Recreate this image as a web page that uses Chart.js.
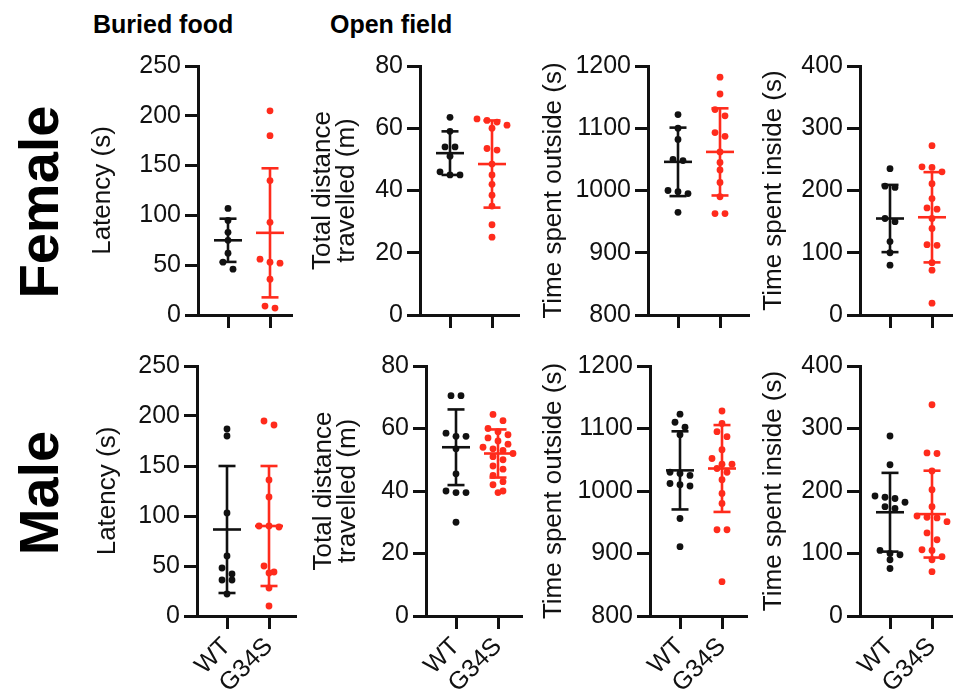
<!DOCTYPE html>
<html><head><meta charset="utf-8">
<script src="https://cdn.jsdelivr.net/npm/chart.js@4.4.1/dist/chart.umd.min.js"></script>
<style>
html,body{margin:0;padding:0;background:#fff;}
body{width:953px;height:694px;position:relative;overflow:hidden;font-family:"Liberation Sans",Arial,sans-serif;}
canvas{position:absolute;}
.hdr{position:absolute;font-weight:bold;font-size:25px;line-height:25px;color:#000;white-space:nowrap;}
.rowlab{position:absolute;width:200px;height:62px;line-height:62px;text-align:center;font-weight:bold;font-size:56px;transform:rotate(-90deg);color:#000;white-space:nowrap;}
</style></head><body>
<div class="hdr" style="left:93px;top:12px">Buried food</div>
<div class="hdr" style="left:330px;top:12px">Open field</div>
<div class="rowlab" style="left:-61px;top:171px">Female</div>
<div class="rowlab" style="left:-61px;top:462px">Male</div>
<canvas id="c1"></canvas><canvas id="c2"></canvas><canvas id="c3"></canvas><canvas id="c4"></canvas>
<canvas id="c5"></canvas><canvas id="c6"></canvas><canvas id="c7"></canvas><canvas id="c8"></canvas>
<script>
// ---------- DATA ----------
const groups = ['WT', 'G34S'];

const latencyTicks  = [0, 50, 100, 150, 200, 250];
const distanceTicks = [0, 20, 40, 60, 80];
const outsideTicks  = [800, 900, 1000, 1100, 1200];
const insideTicks   = [0, 100, 200, 300, 400];

// Female
const femLatWT    = [107, 95, 83, 75, 62, 53, 46];
const femLatG34S  = [205, 180, 135, 93, 56, 53, 52, 36, 9, 7];
const femLatMean  = [75, 82.5];
const femLatSD    = [21.7, 64.8];

const femDistWT   = [63.5, 59, 54, 54, 51, 46, 45, 45];
const femDistG34S = [63, 62.5, 62, 61, 60, 53.5, 53, 48.5, 45, 42, 38.5, 35, 29, 25];
const femDistMean = [52, 48.5];
const femDistSD   = [7, 14];

const femOutWT    = [1122, 1100, 1082, 1050, 1048, 1000, 998, 995, 965];
const femOutG34S  = [1182, 1155, 1130, 1120, 1093, 1087, 1062, 1045, 1033, 1013, 990, 963, 963];
const femOutMean  = [1046, 1062];
const femOutSD    = [55, 70];

const femInWT     = [235, 207, 205, 155, 150, 118, 100, 80];
const femInG34S   = [272, 238, 237, 230, 211, 187, 172, 170, 155, 139, 113, 112, 84, 72, 19];
const femInMean   = [155, 157];
const femInSD     = [54, 72.5];

// Male
const maleLatWT    = [187, 180, 103, 60, 48, 42, 36, 36, 22];
const maleLatG34S  = [195, 191, 136, 119, 90, 90, 89, 50, 44, 43, 28, 10];
const maleLatMean  = [86.5, 90];
const maleLatSD    = [63.5, 60];

const maleDistWT   = [70.5, 70.5, 58.5, 57.5, 57.5, 53.5, 45.5, 40, 39.5, 39.5, 30];
const maleDistG34S = [64.5, 62.5, 60, 59, 58, 57, 56, 55, 54, 53.5, 53, 52, 51, 50, 48, 47, 45, 43, 42, 40, 39.5];
const maleDistMean = [54, 52];
const maleDistSD   = [12.1, 7.7];

const maleOutWT    = [1123, 1110, 1102, 1090, 1030, 1028, 1025, 1012, 1010, 1008, 956, 911];
const maleOutG34S  = [1128, 1108, 1095, 1087, 1066, 1052, 1043, 1043, 1036, 1030, 1018, 996, 980, 938, 938, 855];
const maleOutMean  = [1033, 1036];
const maleOutSD    = [62.5, 69.5];

const maleInWT     = [288, 242, 192, 190, 188, 182, 175, 172, 105, 100, 98, 90, 76];
const maleInG34S   = [338, 261, 260, 232, 202, 175, 160, 158, 157, 151, 133, 122, 106, 105, 95, 90, 71];
const maleInMean   = [166, 163];
const maleInSD     = [63, 69.5];

// ---------- STYLE / LAYOUT ----------
const BLACK = '#111111';
const RED = '#ff2b1c';
const FONT = '"Liberation Sans", Arial, sans-serif';
const PX_PER_X = 42;      // pixels per group unit on x
const FIRST_OFF = 30;     // px from y axis to WT
const DOT_D = 7;          // collision diameter
const STEP = 10;          // swarm spacing px

const rows = [
  {plotTop: 66, plotBottom: 315, canvasTop: 46, canvasBottom: 333, labels: false},
  {plotTop: 366, plotBottom: 616, canvasTop: 346, canvasBottom: 694, labels: true}
];

const panels = [
  {id:'c1', row:0, left:90,  axis:198, right:293, title:'Latency (s)', ticks:latencyTicks, wt:femLatWT, mu:femLatG34S, mean:femLatMean, sd:femLatSD},
  {id:'c2', row:0, left:310, axis:420, right:520, title:['Total distance','travelled (m)'], ticks:distanceTicks, wt:femDistWT, mu:femDistG34S, mean:femDistMean, sd:femDistSD},
  {id:'c3', row:0, left:541, axis:648, right:750, title:'Time spent outside (s)', ticks:outsideTicks, wt:femOutWT, mu:femOutG34S, mean:femOutMean, sd:femOutSD},
  {id:'c4', row:0, left:761, axis:860, right:953, title:'Time spent inside (s)', ticks:insideTicks, wt:femInWT, mu:femInG34S, mean:femInMean, sd:femInSD},
  {id:'c5', row:1, left:95,  axis:197, right:297, title:'Latency (s)', ticks:latencyTicks, wt:maleLatWT, mu:maleLatG34S, mean:maleLatMean, sd:maleLatSD},
  {id:'c6', row:1, left:311, axis:426, right:523, title:['Total distance','travelled (m)'], ticks:distanceTicks, wt:maleDistWT, mu:maleDistG34S, mean:maleDistMean, sd:maleDistSD},
  {id:'c7', row:1, left:541, axis:650, right:748, title:'Time spent outside (s)', ticks:outsideTicks, wt:maleOutWT, mu:maleOutG34S, mean:maleOutMean, sd:maleOutSD},
  {id:'c8', row:1, left:761, axis:860, right:953, title:'Time spent inside (s)', ticks:insideTicks, wt:maleInWT, mu:maleInG34S, mean:maleInMean, sd:maleInSD}
];

function swarm(vals, gx, yMin, yMax, plotH) {
  const k = plotH / (yMax - yMin);
  const sorted = [...vals].sort((a, b) => b - a);
  const rws = [];
  for (const v of sorted) {
    const last = rws[rws.length - 1];
    if (last && Math.abs(last[0] - v) * k < DOT_D) last.push(v); else rws.push([v]);
  }
  const pts = [];
  rws.forEach(r => r.forEach((v, i) => pts.push({x: gx + (i - (r.length - 1) / 2) * STEP / PX_PER_X, y: v})));
  return pts;
}

function barSets(gx, m, s, color) {
  const base = {type: 'scatter', showLine: true, pointRadius: 0, borderColor: color, borderWidth: 2.6, borderCapStyle: 'butt', fill: false};
  const mw = 14 / PX_PER_X, cw = 8.5 / PX_PER_X;
  return [
    Object.assign({}, base, {data: [{x: gx - mw, y: m}, {x: gx + mw, y: m}]}),
    Object.assign({}, base, {data: [{x: gx, y: m - s}, {x: gx, y: m + s}]}),
    Object.assign({}, base, {data: [{x: gx - cw, y: m + s}, {x: gx + cw, y: m + s}]}),
    Object.assign({}, base, {data: [{x: gx - cw, y: m - s}, {x: gx + cw, y: m - s}]})
  ];
}

panels.forEach(p => {
  const r = rows[p.row];
  const cv = document.getElementById(p.id);
  const w = p.right - p.left, h = r.canvasBottom - r.canvasTop;
  cv.style.left = p.left + 'px';
  cv.style.top = r.canvasTop + 'px';
  cv.width = w; cv.height = h;
  cv.style.width = w + 'px'; cv.style.height = h + 'px';
  const yMin = p.ticks[0], yMax = p.ticks[p.ticks.length - 1];
  const plotH = r.plotBottom - r.plotTop;
  const xMin = 1 - FIRST_OFF / PX_PER_X;
  const xMax = xMin + (p.right - p.axis) / PX_PER_X;
  const datasets = [
    ...barSets(1, p.mean[0], p.sd[0], BLACK),
    ...barSets(2, p.mean[1], p.sd[1], RED),
    {type: 'scatter', data: swarm(p.wt, 1, yMin, yMax, plotH), pointRadius: 3.4, pointBackgroundColor: BLACK, pointBorderWidth: 0, showLine: false},
    {type: 'scatter', data: swarm(p.mu, 2, yMin, yMax, plotH), pointRadius: 3.4, pointBackgroundColor: RED, pointBorderWidth: 0, showLine: false}
  ];
  new Chart(cv, {
    type: 'scatter',
    data: {datasets},
    options: {
      responsive: false, animation: false, events: [],
      devicePixelRatio: 1,
      layout: {autoPadding: false, padding: {top: r.plotTop - r.canvasTop, bottom: 0, left: 0, right: 0}},
      plugins: {legend: {display: false}, tooltip: {enabled: false}},
      scales: {
        x: {
          type: 'linear', min: xMin, max: xMax,
          afterBuildTicks: s => { s.ticks = groups.map((g, i) => ({value: i + 1})); },
          afterFit: s => { s.height = r.canvasBottom - r.plotBottom; s.paddingLeft = 0; s.paddingRight = 0; },
          ticks: {display: r.labels, autoSkip: false, maxRotation: 45, minRotation: 45, padding: 3,
                  color: BLACK, font: {family: FONT, size: 25},
                  callback: v => groups[Math.round(v) - 1]},
          grid: {display: true, drawOnChartArea: false, drawTicks: true, tickLength: 13, color: BLACK, lineWidth: 3},
          border: {display: true, color: BLACK, width: 3}
        },
        y: {
          type: 'linear', min: yMin, max: yMax,
          afterBuildTicks: s => { s.ticks = p.ticks.map(v => ({value: v})); },
          afterFit: s => { s.width = p.axis - p.left; s.paddingTop = 0; s.paddingBottom = 0; },
          ticks: {padding: 4, color: BLACK, font: {family: FONT, size: 25}, callback: v => String(v)},
          grid: {display: true, drawOnChartArea: false, drawTicks: true, tickLength: 13, color: BLACK, lineWidth: 3},
          border: {display: true, color: BLACK, width: 3},
          title: {display: true, text: p.title, color: BLACK, padding: 0, font: {family: FONT, size: 26, lineHeight: 0.95}}
        }
      }
    }
  });
});
</script>
</body></html>
